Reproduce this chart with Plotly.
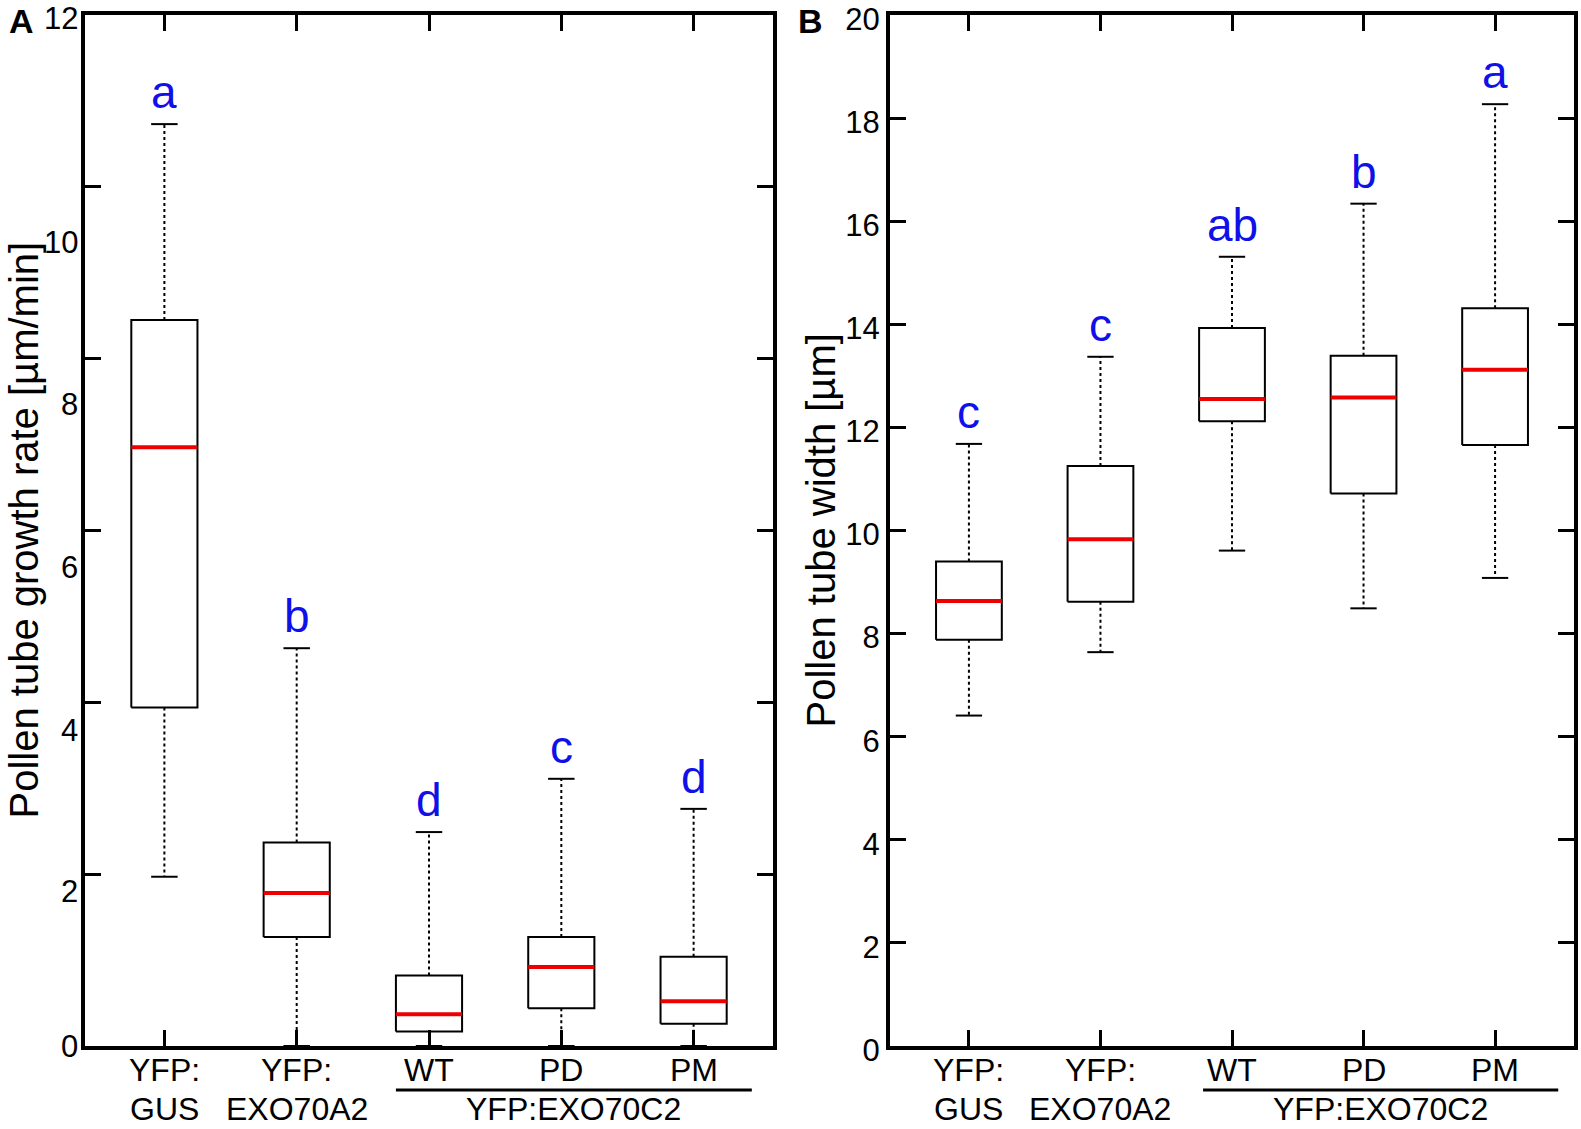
import plotly.graph_objects as go

# ---------------- data ----------------
categories = ["YFP:<br>GUS", "YFP:<br>EXO70A2", "WT", "PD", "PM"]
group_label = "YFP:EXO70C2"

# Panel A: pollen tube growth rate [µm/min]
A_low = [1.97, 0.0, 0.0, 0.0, 0.0]
A_q1 = [3.94, 1.27, 0.17, 0.44, 0.26]
A_med = [6.97, 1.78, 0.37, 0.92, 0.52]
A_q3 = [8.45, 2.37, 0.82, 1.27, 1.04]
A_high = [10.73, 4.63, 2.49, 3.11, 2.76]
A_letters = ["a", "b", "d", "c", "d"]
A_ytick_vals = [0, 2, 4, 6, 8, 10, 12]
A_ytick_text = ["0", "2", "4", "6", "8", "10", "12"]

# Panel B: pollen tube width [µm]
B_low = [6.41, 7.64, 9.61, 8.49, 9.08]
B_q1 = [7.88, 8.62, 12.12, 10.72, 11.66]
B_med = [8.63, 9.83, 12.55, 12.58, 13.12]
B_q3 = [9.40, 11.25, 13.93, 13.39, 14.31]
B_high = [11.68, 13.37, 15.31, 16.34, 18.27]
B_letters = ["c", "c", "ab", "b", "a"]
B_ytick_vals = [0, 2, 4, 6, 8, 10, 12, 14, 16, 18, 20]

# ---------------- style ----------------
FONT = "Liberation Sans, Arial, Helvetica, sans-serif"
W, H = 1581, 1129
HALF_BOX = 0.25
HALF_CAP = 0.1
# where the (shifted) tick labels of panel A sit in the reference picture
A_ylabel_pos = [0.0, 1.80, 3.67, 5.57, 7.47, 9.35, 11.96]

xdomA = [85 / W, 773 / W]
xdomB = [890 / W, 1574 / W]
ydom = [1 - 1046 / H, 1 - 15 / H]

fig = go.Figure()


def add_boxes(xa, ya, low, q1, med, q3, high):
    for i in range(len(low)):
        # whiskers (dotted)
        fig.add_trace(go.Scatter(
            x=[i, i, None, i, i], y=[q3[i], high[i], None, q1[i], low[i]],
            mode="lines", line=dict(color="black", width=2, dash="3px,3px"),
            xaxis=xa, yaxis=ya, showlegend=False, hoverinfo="skip"))
        # caps
        fig.add_trace(go.Scatter(
            x=[i - HALF_CAP, i + HALF_CAP, None, i - HALF_CAP, i + HALF_CAP],
            y=[high[i], high[i], None, low[i], low[i]],
            mode="lines", line=dict(color="black", width=2),
            xaxis=xa, yaxis=ya, showlegend=False, hoverinfo="skip"))
        # box
        fig.add_trace(go.Scatter(
            x=[i - HALF_BOX, i + HALF_BOX, i + HALF_BOX, i - HALF_BOX, i - HALF_BOX],
            y=[q1[i], q1[i], q3[i], q3[i], q1[i]],
            mode="lines", line=dict(color="black", width=2),
            fill="toself", fillcolor="white",
            xaxis=xa, yaxis=ya, showlegend=False, hoverinfo="skip"))
        # median
        fig.add_trace(go.Scatter(
            x=[i - HALF_BOX, i + HALF_BOX], y=[med[i], med[i]],
            mode="lines", line=dict(color="#ee0000", width=4),
            xaxis=xa, yaxis=ya, showlegend=False, hoverinfo="skip"))


add_boxes("x", "y", A_low, A_q1, A_med, A_q3, A_high)
add_boxes("x2", "y2", B_low, B_q1, B_med, B_q3, B_high)

axis_common = dict(
    showline=True, linecolor="black", linewidth=4, mirror="ticks",
    ticks="inside", ticklen=16, tickwidth=3, tickcolor="black",
    showgrid=False, zeroline=False, layer="above traces", automargin=False,
)

xcommon = dict(axis_common, tickmode="array", tickvals=list(range(len(categories))),
               ticktext=categories, range=[-0.6, 4.6], showticklabels=False)

fig.update_layout(
    width=W, height=H,
    margin=dict(l=0, r=0, t=0, b=0, pad=0),
    paper_bgcolor="white", plot_bgcolor="white",
    font=dict(family=FONT, color="black"),
    xaxis=dict(xcommon, domain=xdomA, anchor="y"),
    xaxis2=dict(xcommon, domain=xdomB, anchor="y2"),
    yaxis=dict(axis_common, domain=ydom, anchor="x", range=[0, 12],
               tickmode="array", tickvals=A_ytick_vals, showticklabels=False),
    yaxis2=dict(axis_common, domain=ydom, anchor="x2", range=[0, 20],
                tickmode="array", tickvals=B_ytick_vals,
                ticklabeloverflow="allow", ticklabelshift=4,
                tickfont=dict(family=FONT, size=31, color="black")),
)

ann = []
# panel A y tick labels (as in the reference, drawn shifted)
for pos, txt in zip(A_ylabel_pos, A_ytick_text):
    ann.append(dict(x=xdomA[0], xref="paper", y=pos, yref="y", text=txt,
                    xanchor="right", yanchor="middle", xshift=-5, showarrow=False,
                    font=dict(family=FONT, size=31, color="black")))

# category labels (two lines each where needed)
LINE1_Y = 1 - 1070 / H
LINE2_Y = 1 - 1109 / H
for xa in ("x", "x2"):
    for i, cat in enumerate(categories):
        parts = cat.split("<br>")
        for part, yy in zip(parts, (LINE1_Y, LINE2_Y)):
            ann.append(dict(x=i, xref=xa, y=yy, yref="paper", text=part,
                            showarrow=False, xanchor="center", yanchor="middle",
                            font=dict(family=FONT, size=32, color="black")))

# significance letters
for xa, ya, high, letters in (("x", "y", A_high, A_letters), ("x2", "y2", B_high, B_letters)):
    for i, (h, t) in enumerate(zip(high, letters)):
        ann.append(dict(x=i, xref=xa, y=h, yref=ya, text=t, showarrow=False,
                        xanchor="center", yanchor="bottom", yshift=4,
                        font=dict(family=FONT, size=46, color="#1010e8")))

# y axis titles
ymid = (ydom[0] + ydom[1]) / 2
ann.append(dict(x=23 / W, xref="paper", y=ymid, yref="paper", textangle=-90,
                text="Pollen tube growth rate [µm/min]", showarrow=False,
                xanchor="center", yanchor="middle",
                font=dict(family=FONT, size=40, color="black")))
ann.append(dict(x=820 / W, xref="paper", y=ymid, yref="paper", textangle=-90,
                text="Pollen tube width [µm]", showarrow=False,
                xanchor="center", yanchor="middle",
                font=dict(family=FONT, size=40, color="black")))

# panel letters
ann.append(dict(x=21 / W, xref="paper", y=1 - 21 / H, yref="paper", text="<b>A</b>",
                showarrow=False, xanchor="center", yanchor="middle",
                font=dict(family=FONT, size=34, color="black")))
ann.append(dict(x=810 / W, xref="paper", y=1 - 21 / H, yref="paper", text="<b>B</b>",
                showarrow=False, xanchor="center", yanchor="middle",
                font=dict(family=FONT, size=34, color="black")))

# group labels
shapes = []
for xa, x0, x1, xc in (("x", 1.75, 4.44, 3.09), ("x2", 1.78, 4.48, 3.13)):
    shapes.append(dict(type="line", xref=xa, yref="paper", x0=x0, x1=x1,
                       y0=1 - 1090 / H, y1=1 - 1090 / H,
                       line=dict(color="black", width=3)))
    ann.append(dict(x=xc, xref=xa, y=1 - 1109 / H, yref="paper", text=group_label,
                    showarrow=False, xanchor="center", yanchor="middle",
                    font=dict(family=FONT, size=32, color="black")))

fig.update_layout(annotations=ann, shapes=shapes)

fig.write_html(
    "out.html",
    config={"displayModeBar": False},
    post_script="document.body.style.margin='0';document.body.style.overflow='hidden';",
)
